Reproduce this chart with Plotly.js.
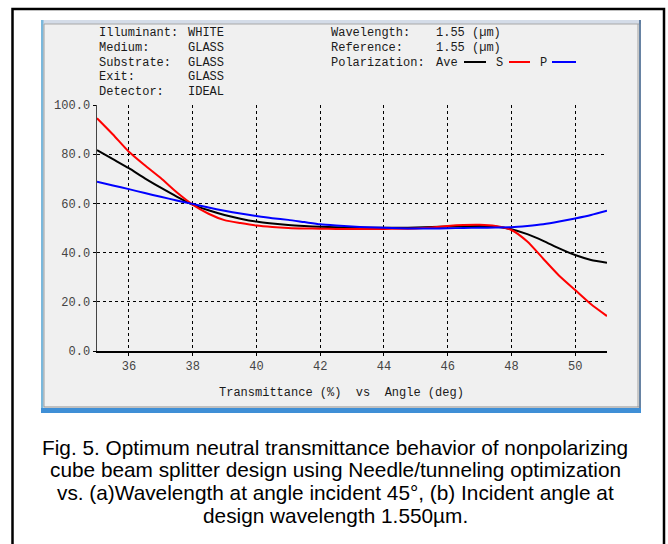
<!DOCTYPE html>
<html>
<head>
<meta charset="utf-8">
<script src="https://cdn.plot.ly/plotly-3.0.1.min.js"></script>
<style>html,body{margin:0;padding:0;background:#fff;}#chart{width:668px;height:544px;}</style>
</head>
<body>
<div id="chart"></div>
<script>
// ---- data ----
const angles = [35,35.5,36,36.5,37,37.5,38,38.5,39,39.5,40,40.5,41,41.5,42,42.5,43,43.5,44,44.5,45,45.5,46,46.5,47,47.5,48,48.5,49,49.5,50,50.5,51];
const aveT = [81.7,78.0,74.3,70.2,66.4,62.8,59.5,57.2,55.3,53.8,52.6,51.8,51.2,50.8,50.5,50.3,50.2,50.1,50.1,50.1,50.2,50.4,50.6,50.7,50.8,50.6,49.5,47.5,44.8,41.7,39.0,37.0,35.9];
const sT   = [94.6,88.0,81.0,75.5,70.3,64.5,59.5,55.8,53.2,52.0,51.0,50.4,50.0,49.8,49.7,49.6,49.6,49.6,49.6,49.7,49.8,50.2,50.8,51.2,51.3,50.8,49.2,44.5,37.5,30.6,24.8,19.0,14.2];
const pT   = [68.8,67.3,65.8,64.2,62.7,61.2,59.8,58.3,57.0,55.9,54.9,54.0,53.3,52.4,51.5,51.0,50.6,50.3,50.1,49.9,49.8,49.8,49.9,50.0,50.1,50.2,50.3,50.8,51.5,52.6,53.9,55.3,57.0];
const xTicks = [36,38,40,42,44,46,48,50];
const yTicks = [0,20,40,60,80,100];
const headerLeftLabels = ["Illuminant:","Medium:","Substrate:","Exit:","Detector:"];
const headerLeftValues = ["WHITE","GLASS","GLASS","GLASS","IDEAL"];
const headerRightLabels = ["Wavelength:","Reference:","Polarization:"];
const headerRightValues = ["1.55 (\u00b5m)","1.55 (\u00b5m)","Ave"];
const seriesNames = ["Ave","S","P"];
const xAxisText = "Transmittance (%)\u00a0\u00a0vs\u00a0\u00a0Angle (deg)";
const captionLines = [
  "Fig. 5. Optimum neutral transmittance behavior of nonpolarizing",
  "cube beam splitter design using Needle/tunneling optimization",
  "vs. (a)Wavelength at angle incident 45\u00b0, (b) Incident angle at",
  "design wavelength 1.550\u00b5m."
];

// ---- layout helpers (pixel -> paper) ----
const W = 668, H = 544, L = 97, R = 61, T = 105, B = 193;
const PW = W - L - R, PH = H - T - B;
const px = x => (x - L) / PW;
const py = y => (H - B - y) / PH;

const mono = "Liberation Mono, Courier New, monospace";
const txtCol = "#1a1a1a";

const traces = [
  {x: angles, y: aveT, name: seriesNames[0], mode: "lines", line: {color: "#000000", width: 2, shape: "spline", smoothing: 0.6}},
  {x: angles, y: sT,   name: seriesNames[1], mode: "lines", line: {color: "#ff0000", width: 2, shape: "spline", smoothing: 0.6}},
  {x: angles, y: pT,   name: seriesNames[2], mode: "lines", line: {color: "#0000ff", width: 2, shape: "spline", smoothing: 0.6}}
];

const ann = [];
const rowY = [33, 48, 63, 77, 92];
headerLeftLabels.forEach((t, i) => {
  ann.push({xref:"paper", yref:"paper", x: px(97), y: py(rowY[i]), text: t, showarrow:false, xanchor:"left", yanchor:"middle", font:{family:mono, size:12, color:txtCol}});
  ann.push({xref:"paper", yref:"paper", x: px(186), y: py(rowY[i]), text: headerLeftValues[i], showarrow:false, xanchor:"left", yanchor:"middle", font:{family:mono, size:12, color:txtCol}});
});
headerRightLabels.forEach((t, i) => {
  ann.push({xref:"paper", yref:"paper", x: px(329), y: py(rowY[i]), text: t, showarrow:false, xanchor:"left", yanchor:"middle", font:{family:mono, size:12, color:txtCol}});
  ann.push({xref:"paper", yref:"paper", x: px(434), y: py(rowY[i]), text: headerRightValues[i], showarrow:false, xanchor:"left", yanchor:"middle", font:{family:mono, size:12, color:txtCol}});
});
ann.push({xref:"paper", yref:"paper", x: px(494), y: py(rowY[2]), text: seriesNames[1], showarrow:false, xanchor:"left", yanchor:"middle", font:{family:mono, size:12, color:txtCol}});
ann.push({xref:"paper", yref:"paper", x: px(538), y: py(rowY[2]), text: seriesNames[2], showarrow:false, xanchor:"left", yanchor:"middle", font:{family:mono, size:12, color:txtCol}});
ann.push({xref:"paper", yref:"paper", x: px(341), y: py(393), text: xAxisText, showarrow:false, xanchor:"center", yanchor:"middle", font:{family:mono, size:12, color:txtCol}});
const capY = [447, 469.5, 492, 515];
captionLines.forEach((t, i) => {
  ann.push({xref:"paper", yref:"paper", x: px(335), y: py(capY[i]), text: t, showarrow:false, xanchor:"center", yanchor:"middle", font:{family:"Liberation Sans, Arial, sans-serif", size:20.8, color:"#000"}});
});

const shapes = [
  // outer black frame
  {type:"path", xref:"paper", yref:"paper", layer:"below",
   path:`M ${px(12.5)} ${py(560)} L ${px(12.5)} ${py(9)} L ${px(664)} ${py(9)} L ${px(664)} ${py(560)}`,
   line:{color:"#000", width:2.5}},
  // window panel
  {type:"rect", xref:"paper", yref:"paper", layer:"below", x0:px(41), x1:px(641), y0:py(413), y1:py(20), fillcolor:"#f0f0f0", line:{width:0}},
  // window top edge
  {type:"rect", xref:"paper", yref:"paper", layer:"below", x0:px(41), x1:px(641), y0:py(24), y1:py(20), fillcolor:"#d4dce8", line:{width:0}},
  {type:"line", xref:"paper", yref:"paper", layer:"below", x0:px(44), x1:px(639), y0:py(24), y1:py(24), line:{color:"#a8a8a8", width:1}},
  // left edge
  {type:"rect", xref:"paper", yref:"paper", layer:"below", x0:px(41), x1:px(43.5), y0:py(413), y1:py(20), fillcolor:"#7ab8dc", line:{width:0}},
  {type:"line", xref:"paper", yref:"paper", layer:"below", x0:px(44), x1:px(44), y0:py(407), y1:py(24), line:{color:"#a0a0a0", width:1}},
  // right edge
  {type:"line", xref:"paper", yref:"paper", layer:"below", x0:px(640), x1:px(640), y0:py(413), y1:py(20), line:{color:"#3a5f8a", width:1.5}},
  {type:"line", xref:"paper", yref:"paper", layer:"below", x0:px(638), x1:px(638), y0:py(407), y1:py(24), line:{color:"#a0a0a0", width:1}},
  // bottom edge
  {type:"line", xref:"paper", yref:"paper", layer:"below", x0:px(44), x1:px(639), y0:py(407), y1:py(407), line:{color:"#909090", width:1}},
  {type:"rect", xref:"paper", yref:"paper", layer:"below", x0:px(41), x1:px(641), y0:py(413), y1:py(408), fillcolor:"#3f8fd6", line:{width:0}},
  // legend line samples
  {type:"line", xref:"paper", yref:"paper", x0:px(464), x1:px(486), y0:py(62), y1:py(62), line:{color:"#000000", width:2}},
  {type:"line", xref:"paper", yref:"paper", x0:px(509), x1:px(530), y0:py(62), y1:py(62), line:{color:"#ff0000", width:2}},
  {type:"line", xref:"paper", yref:"paper", x0:px(552), x1:px(576), y0:py(62), y1:py(62), line:{color:"#0000ff", width:2}}
];

const layout = {
  width: W, height: H,
  margin: {l: L, r: R, t: T, b: B, pad: 0},
  paper_bgcolor: "#ffffff",
  plot_bgcolor: "rgba(0,0,0,0)",
  showlegend: false,
  xaxis: {
    range: [35, 51], tickvals: xTicks, ticktext: xTicks.map(String),
    showgrid: true, gridcolor: "#000", gridwidth: 1, griddash: "3px,3px",
    showline: true, linecolor: "#000", linewidth: 1.5, zeroline: false,
    ticks: "outside", ticklen: 3, tickcolor: "#000",
    tickfont: {family: mono, size: 12, color: "#444"}, fixedrange: true
  },
  yaxis: {
    range: [0, 100], tickvals: yTicks, ticktext: yTicks.map(v => v.toFixed(1)),
    showgrid: true, gridcolor: "#000", gridwidth: 1, griddash: "3px,3px",
    showline: true, linecolor: "#444", linewidth: 1.5, zeroline: false,
    ticks: "outside", ticklen: 3, tickcolor: "#000",
    tickfont: {family: mono, size: 12, color: "#444"}, fixedrange: true
  },
  annotations: ann,
  shapes: shapes
};

Plotly.newPlot("chart", traces, layout, {staticPlot: true, displayModeBar: false});
</script>
</body>
</html>
